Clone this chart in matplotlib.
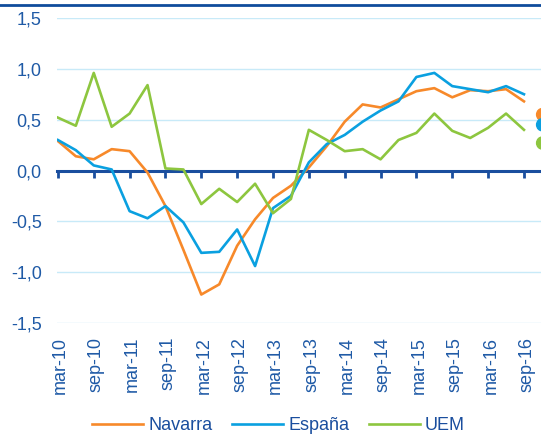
import matplotlib
matplotlib.use('Agg')
import matplotlib.pyplot as plt
from matplotlib.lines import Line2D
from matplotlib.transforms import blended_transform_factory

plt.rcParams['font.family'] = ['Liberation Sans', 'DejaVu Sans']

# Quarterly series, mar-10 .. sep-16
navarra = [0.29, 0.14, 0.11, 0.21, 0.19, -0.02, -0.35, -0.78, -1.22, -1.12,
           -0.74, -0.48, -0.27, -0.15, 0.03, 0.24, 0.48, 0.65, 0.62, 0.70,
           0.78, 0.81, 0.72, 0.79, 0.78, 0.80, 0.68]
espana = [0.30, 0.20, 0.05, 0.01, -0.40, -0.47, -0.35, -0.51, -0.81, -0.80,
          -0.58, -0.94, -0.37, -0.25, 0.08, 0.26, 0.35, 0.48, 0.59, 0.68,
          0.92, 0.96, 0.83, 0.80, 0.77, 0.83, 0.75]
uem = [0.52, 0.44, 0.96, 0.43, 0.56, 0.84, 0.02, 0.01, -0.33, -0.18,
       -0.31, -0.13, -0.42, -0.28, 0.40, 0.30, 0.19, 0.21, 0.11, 0.30,
       0.37, 0.56, 0.39, 0.32, 0.42, 0.56, 0.40]
tick_labels = ['mar-10', 'sep-10', 'mar-11', 'sep-11', 'mar-12', 'sep-12', 'mar-13',
               'sep-13', 'mar-14', 'sep-14', 'mar-15', 'sep-15', 'mar-16', 'sep-16']
# coloured dots cut off at the right edge
edge_dots = [0.55, 0.45, 0.27]

c_nav, c_esp, c_uem = '#F7892A', '#0AA0E0', '#8DC63F'
dark = '#1A4E9E'
txt = '#1F5AA6'

fig = plt.figure(figsize=(5.41, 4.34), dpi=100)
ax = fig.add_axes([57 / 541, 1 - 323 / 434, 1 - 57 / 541, (323 - 18) / 434])

x = list(range(len(navarra)))
ax.plot(x, navarra, color=c_nav, lw=1.9, label='Navarra', zorder=3)
ax.plot(x, espana, color=c_esp, lw=1.9, label='España', zorder=3)
ax.plot(x, uem, color=c_uem, lw=1.9, label='UEM', zorder=3)

ax.scatter([27.05] * 3, edge_dots, s=80, color=[c_nav, c_esp, c_uem], zorder=4)

ax.set_xlim(-0.05, 26.95)
ax.set_ylim(-1.5, 1.5)
ax.set_yticks([-1.5, -1.0, -0.5, 0.0, 0.5, 1.0, 1.5])
ax.set_yticklabels(['-1,5', '-1,0', '-0,5', '0,0', '0,5', '1,0', '1,5'])
ax.grid(axis='y', color='#C8EAF8', lw=1.0, zorder=0)
ax.set_axisbelow(True)

for s in ['top', 'right', 'left']:
    ax.spines[s].set_visible(False)
ax.spines['bottom'].set_position(('data', 0))
ax.spines['bottom'].set_color(dark)
ax.spines['bottom'].set_linewidth(2.2)
ax.spines['bottom'].set_zorder(2)

ticks = list(range(0, len(navarra), 2))
ax.set_xticks(ticks)
ax.tick_params(axis='x', direction='out', length=5, width=2, color=dark,
               labelbottom=False)
ax.tick_params(axis='y', length=0, labelsize=13, labelcolor=txt, pad=11)

trans = blended_transform_factory(ax.transData, ax.transAxes)
for t, lab in zip(ticks, tick_labels):
    ax.text(t + 0.15, -0.045, lab, transform=trans, rotation=90, ha='center',
            va='top', fontsize=13, color=txt)

fig.add_artist(Line2D([0, 1], [1 - 5 / 434, 1 - 5 / 434], color='#0F4C9C', lw=2))

leg = fig.legend(loc='lower center', bbox_to_anchor=(0.515, -0.038), ncol=3,
                 frameon=False, fontsize=13, handlelength=2.8, columnspacing=1.1,
                 handletextpad=0.3)
for t in leg.get_texts():
    t.set_color(dark)

fig.savefig('out.png', dpi=100)
